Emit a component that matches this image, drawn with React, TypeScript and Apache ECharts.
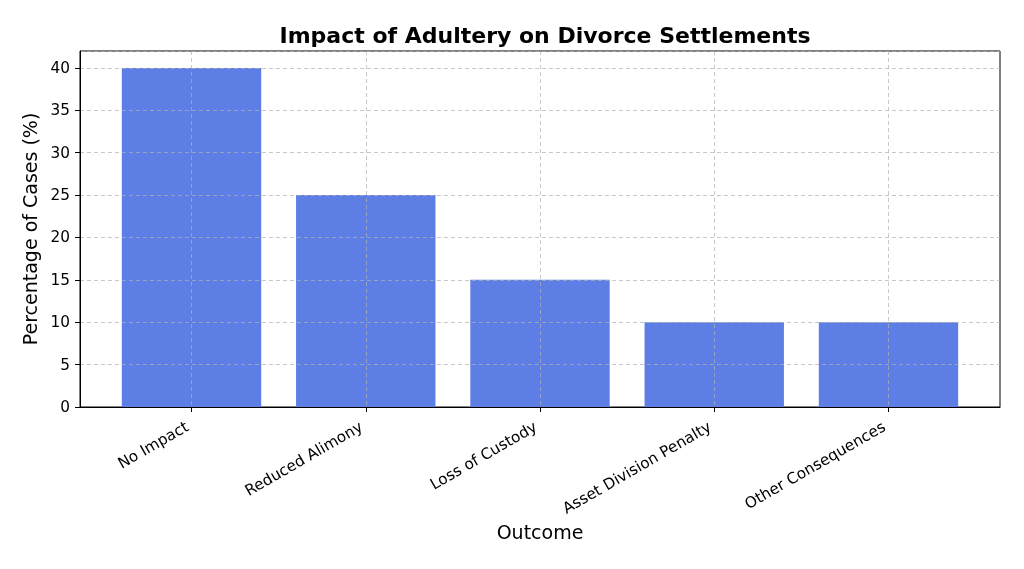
import React, { useEffect, useRef } from "react";
import * as echarts from "echarts";

const categories = ["No Impact", "Reduced Alimony", "Loss of Custody", "Asset Division Penalty", "Other Consequences"];
const values = [40, 25, 15, 10, 10];
const yTicks = { min: 0, max: 42, interval: 5 };
const titleText = "Impact of Adultery on Divorce Settlements";
const xName = "Outcome";
const yName = "Percentage of Cases (%)";

const W = 1024;
const H = 569;
const plotL = 80;
const plotR = 1000;
const plotT = 51;
const plotB = 407;
const xMin = -0.64;
const xMax = categories.length - 1 + 0.64;
const unit = (plotR - plotL) / (xMax - xMin);
const bandL = plotL + (-0.5 - xMin) * unit;
const bandR = plotR - (xMax - (categories.length - 0.5)) * unit;
const c0 = plotL + (0 - xMin) * unit;
const cN = plotL + (categories.length - 1 - xMin) * unit;

const FONT = "DejaVu Sans";
const TICK_FS = 15.3;
const gridLine = { show: true, lineStyle: { color: "rgba(176,176,176,0.7)", type: [4, 3] as any, width: 1 } };

export default function App() {
  const ref = useRef<HTMLDivElement>(null);
  useEffect(() => {
    const chart = echarts.init(ref.current!, null, { renderer: "svg" });
    chart.setOption({
      animation: false,
      textStyle: { fontFamily: FONT },
      title: {
        text: titleText,
        left: (plotL + plotR) / 2,
        textAlign: "center",
        top: 19,
        textStyle: { fontFamily: FONT, fontSize: 22, fontWeight: "bold", color: "#000" },
      },
      grid: [
        { left: plotL, right: W - plotR, top: plotT, bottom: H - plotB, show: true, borderColor: "#000", borderWidth: 1, backgroundColor: "transparent" },
        { left: bandL, right: W - bandR, top: plotT, bottom: H - plotB },
        { left: c0, right: W - cN, top: plotT, bottom: H - plotB },
      ],
      xAxis: [
        {
          gridIndex: 0,
          type: "value",
          min: 0,
          max: 1,
          z: 7,
          axisLine: { show: true, lineStyle: { color: "#000", width: 1 } },
          axisTick: { show: false },
          axisLabel: { show: false },
          splitLine: { show: false },
        },
        {
          gridIndex: 1,
          type: "category",
          data: categories,
          boundaryGap: true,
          z: 6,
          axisLine: { show: false },
          axisTick: { show: true, alignWithLabel: true, length: 5, lineStyle: { color: "#000" } },
          axisLabel: { interval: 0, rotate: 30, fontSize: TICK_FS, color: "#000", margin: 16, padding: [0, 5, 0, 0], fontFamily: FONT },
          splitLine: { show: false },
          name: xName,
          nameLocation: "middle",
          nameGap: 115,
          nameTextStyle: { fontSize: 19, color: "#000", fontFamily: FONT },
        },
        {
          gridIndex: 2,
          type: "value",
          min: 0,
          max: categories.length - 1,
          interval: 1,
          z: 5,
          axisLine: { show: false },
          axisTick: { show: false },
          axisLabel: { show: false },
          splitLine: gridLine,
        },
      ],
      yAxis: [
        {
          gridIndex: 0,
          type: "value",
          min: yTicks.min,
          max: yTicks.max,
          interval: yTicks.interval,
          z: 5,
          axisLine: { show: true, lineStyle: { color: "#000", width: 1 } },
          axisTick: { show: true, length: 5, lineStyle: { color: "#000" } },
          axisLabel: { fontSize: TICK_FS, color: "#000", margin: 10, showMaxLabel: false, fontFamily: FONT },
          splitLine: gridLine,
          name: yName,
          nameLocation: "middle",
          nameGap: 36,
          nameTextStyle: { fontSize: 19, color: "#000", fontFamily: FONT },
        },
        { gridIndex: 1, type: "value", min: yTicks.min, max: yTicks.max, show: false },
        { gridIndex: 2, type: "value", min: yTicks.min, max: yTicks.max, show: false },
      ],
      series: [
        {
          type: "bar",
          xAxisIndex: 1,
          yAxisIndex: 1,
          data: values,
          barWidth: "80%",
          z: 2,
          itemStyle: { color: "#5d7fe5" },
        },
      ],
    });
    return () => chart.dispose();
  }, []);
  return <div ref={ref} style={{ position: "fixed", left: 0, top: 0, width: W, height: H }} />;
}
